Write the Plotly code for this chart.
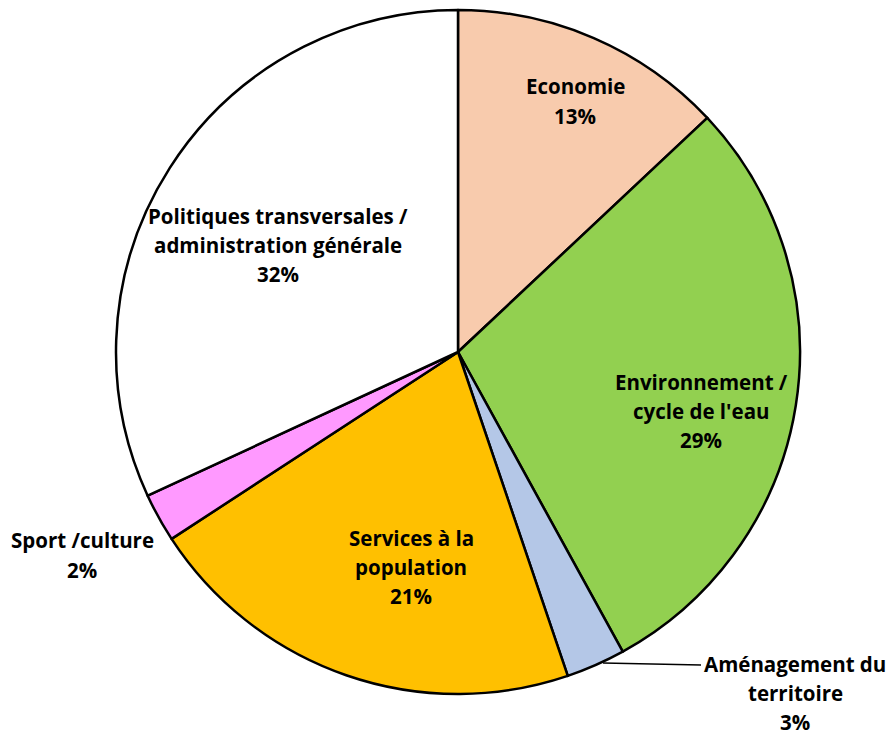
import plotly.graph_objects as go

W, H = 890, 737

categories = ["Economie", "Environnement / cycle de l'eau", "Aménagement du territoire",
              "Services à la population", "Sport /culture",
              "Politiques transversales / administration générale"]
values = [13.0, 29.0, 2.8, 21.0, 2.3, 31.9]
colors = ["#F8CBAD", "#92D050", "#B4C7E7", "#FFC000", "#FF99FF", "#FFFFFF"]

# label lines (text) and layout placement (pixel centres)
label_lines = [["Economie"], ["Environnement /", "cycle de l'eau"], ["Aménagement du", "territoire"],
               ["Services à la", "population"], ["Sport /culture"],
               ["Politiques transversales /", "administration générale"]]
label_pos = [(575, 101), (701, 411), (795, 693), (411, 567), (82, 555), (278, 245)]
LINE_H = 29.3

cx, cy, R = 458, 352, 342

fig = go.Figure(go.Pie(
    labels=categories, values=values, sort=False, direction="clockwise", rotation=0,
    marker=dict(colors=colors, line=dict(color="black", width=2.5)),
    textinfo="none", hoverinfo="label+percent", showlegend=False,
    domain=dict(x=[(cx - R) / W, (cx + R) / W], y=[1 - (cy + R) / H, 1 - (cy - R) / H]),
))

total = sum(values)
annotations = []
for lines, v, (px, py) in zip(label_lines, values, label_pos):
    all_lines = lines + [f"{round(v / total * 100)}%"]
    n = len(all_lines)
    for i, t in enumerate(all_lines):
        y = py + (i - (n - 1) / 2) * LINE_H
        annotations.append(dict(
            x=px / W, y=1 - y / H, xref="paper", yref="paper", text=t, showarrow=False,
            xanchor="center", yanchor="middle", borderpad=0,
            font=dict(family="Open Sans", size=20.5, color="black", weight="bold"),
        ))

shapes = [dict(type="line", xref="paper", yref="paper",
               x0=603 / W, y0=1 - 663 / H, x1=701 / W, y1=1 - 665 / H,
               line=dict(color="black", width=1.5))]

fig.update_layout(width=W, height=H, margin=dict(l=0, r=0, t=0, b=0),
                  paper_bgcolor="white", plot_bgcolor="white",
                  annotations=annotations, shapes=shapes)

fig.write_html("out.html")
